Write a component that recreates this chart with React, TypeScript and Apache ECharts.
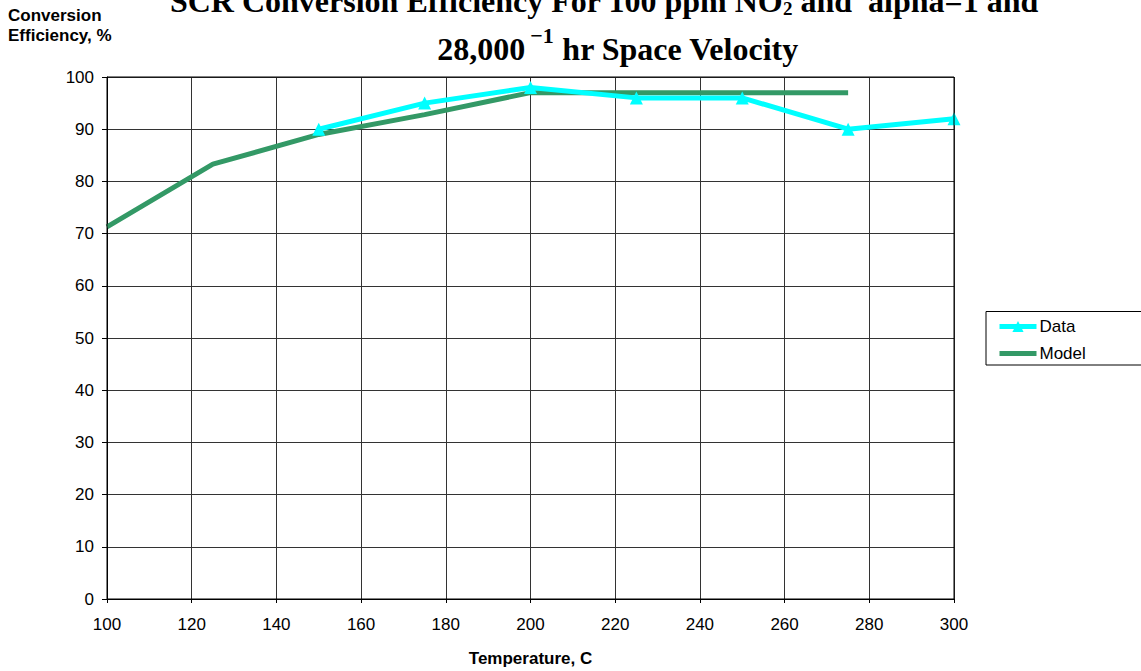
import React, { useEffect, useRef } from "react";
import * as echarts from "echarts";

const dataTemps = [150, 175, 200, 225, 250, 275, 300];
const dataValues = [90, 95, 98, 96, 96, 90, 92];
const modelTemps = [100, 125, 150, 175, 200, 225, 250, 275];
const modelValues = [71.3, 83.3, 89, 92.8, 97, 97, 97, 97];
const seriesNames = ["Data", "Model"];

export default function App() {
  const ref = useRef<HTMLDivElement>(null);
  useEffect(() => {
    if (!ref.current) return;
    const chart = echarts.init(ref.current, null, { renderer: "svg" });
    const axisFont = { fontFamily: "Liberation Sans, Arial, sans-serif", fontSize: 17, color: "#000" };
    chart.setOption({
      animation: false,
      backgroundColor: "#fff",
      grid: { left: 107, right: 187, top: 77, bottom: 72, outerBoundsMode: "none", containLabel: false },
      xAxis: {
        type: "value",
        min: 100,
        max: 300,
        interval: 20,
        name: "Temperature, C",
        nameLocation: "middle",
        nameGap: 51,
        nameTextStyle: { ...axisFont, fontSize: 17, fontWeight: "bold" },
        axisLine: { show: true, lineStyle: { color: "#000", width: 1 } },
        axisTick: { show: true, length: 4, lineStyle: { color: "#000" } },
        axisLabel: { ...axisFont, margin: 17 },
        splitLine: { show: true, lineStyle: { color: "#333", width: 1 } },
      },
      yAxis: {
        type: "value",
        min: 0,
        max: 100,
        interval: 10,
        axisLine: { show: true, lineStyle: { color: "#000", width: 1 } },
        axisTick: { show: true, length: 5, lineStyle: { color: "#000" } },
        axisLabel: { ...axisFont, margin: 13 },
        splitLine: { show: true, lineStyle: { color: "#333", width: 1 } },
      },
      legend: {
        left: 992,
        top: 313,
        orient: "vertical",
        itemWidth: 37,
        itemHeight: 14,
        itemGap: 10,
        lineStyle: { width: 5 },
        textStyle: { ...axisFont, padding: [0, 0, 0, -2] },
        data: [
          { name: seriesNames[0] },
          { name: seriesNames[1], itemStyle: { opacity: 0 } },
        ],
      },
      graphic: [
        {
          type: "rect",
          shape: { x: 986, y: 311.5, width: 170, height: 53.5 },
          style: { fill: "none", stroke: "#000", lineWidth: 1 },
          z: 100,
        },
        {
          type: "rect",
          shape: { x: 107, y: 77, width: 847, height: 522 },
          style: { fill: "none", stroke: "#000", lineWidth: 1 },
          z: 100,
        },
        {
          type: "text",
          x: 604,
          y: 1,
          style: {
            text: "SCR Conversion Efficiency For 100 ppm NO{s|2} and  alpha=1 and",
            font: "bold 32px 'Liberation Serif', 'Times New Roman', serif",
            fill: "#000",
            align: "center",
            verticalAlign: "middle",
            lineHeight: 40,
            rich: {
              s: { fontFamily: "Liberation Serif", fontWeight: "bold", fontSize: 19, lineHeight: 40, padding: [14, 0, 0, 0] },
            },
          },
        },
        {
          type: "text",
          x: 618,
          y: 49,
          style: {
            text: "28,000{s|−1} hr Space Velocity",
            font: "bold 32px 'Liberation Serif', 'Times New Roman', serif",
            fill: "#000",
            align: "center",
            verticalAlign: "middle",
            lineHeight: 40,
            rich: {
              s: { fontFamily: "Liberation Serif", fontWeight: "bold", fontSize: 22, lineHeight: 40, padding: [0, 0, 27, 5] },
            },
          },
        },
        {
          type: "text",
          x: 8,
          y: 5,
          style: {
            text: "Conversion\nEfficiency, %",
            font: "bold 17px 'Liberation Sans', Arial, sans-serif",
            lineHeight: 20,
            fill: "#000",
          },
        },
      ],
      series: [
        {
          name: "Data",
          type: "line",
          data: dataTemps.map((t, i) => [t, dataValues[i]]),
          symbol: "triangle",
          symbolSize: 13,
          lineStyle: { color: "#00FFFF", width: 5 },
          itemStyle: { color: "#00FFFF" },
          z: 3,
        },
        {
          name: "Model",
          type: "line",
          data: modelTemps.map((t, i) => [t, modelValues[i]]),
          symbol: "none",
          showSymbol: false,
          lineStyle: { color: "#339966", width: 5 },
          itemStyle: { color: "#339966" },
          z: 2,
        },
      ],
    });
    return () => chart.dispose();
  }, []);
  return <div ref={ref} style={{ width: 1141, height: 671, position: "absolute", left: 0, top: 0 }} />;
}
